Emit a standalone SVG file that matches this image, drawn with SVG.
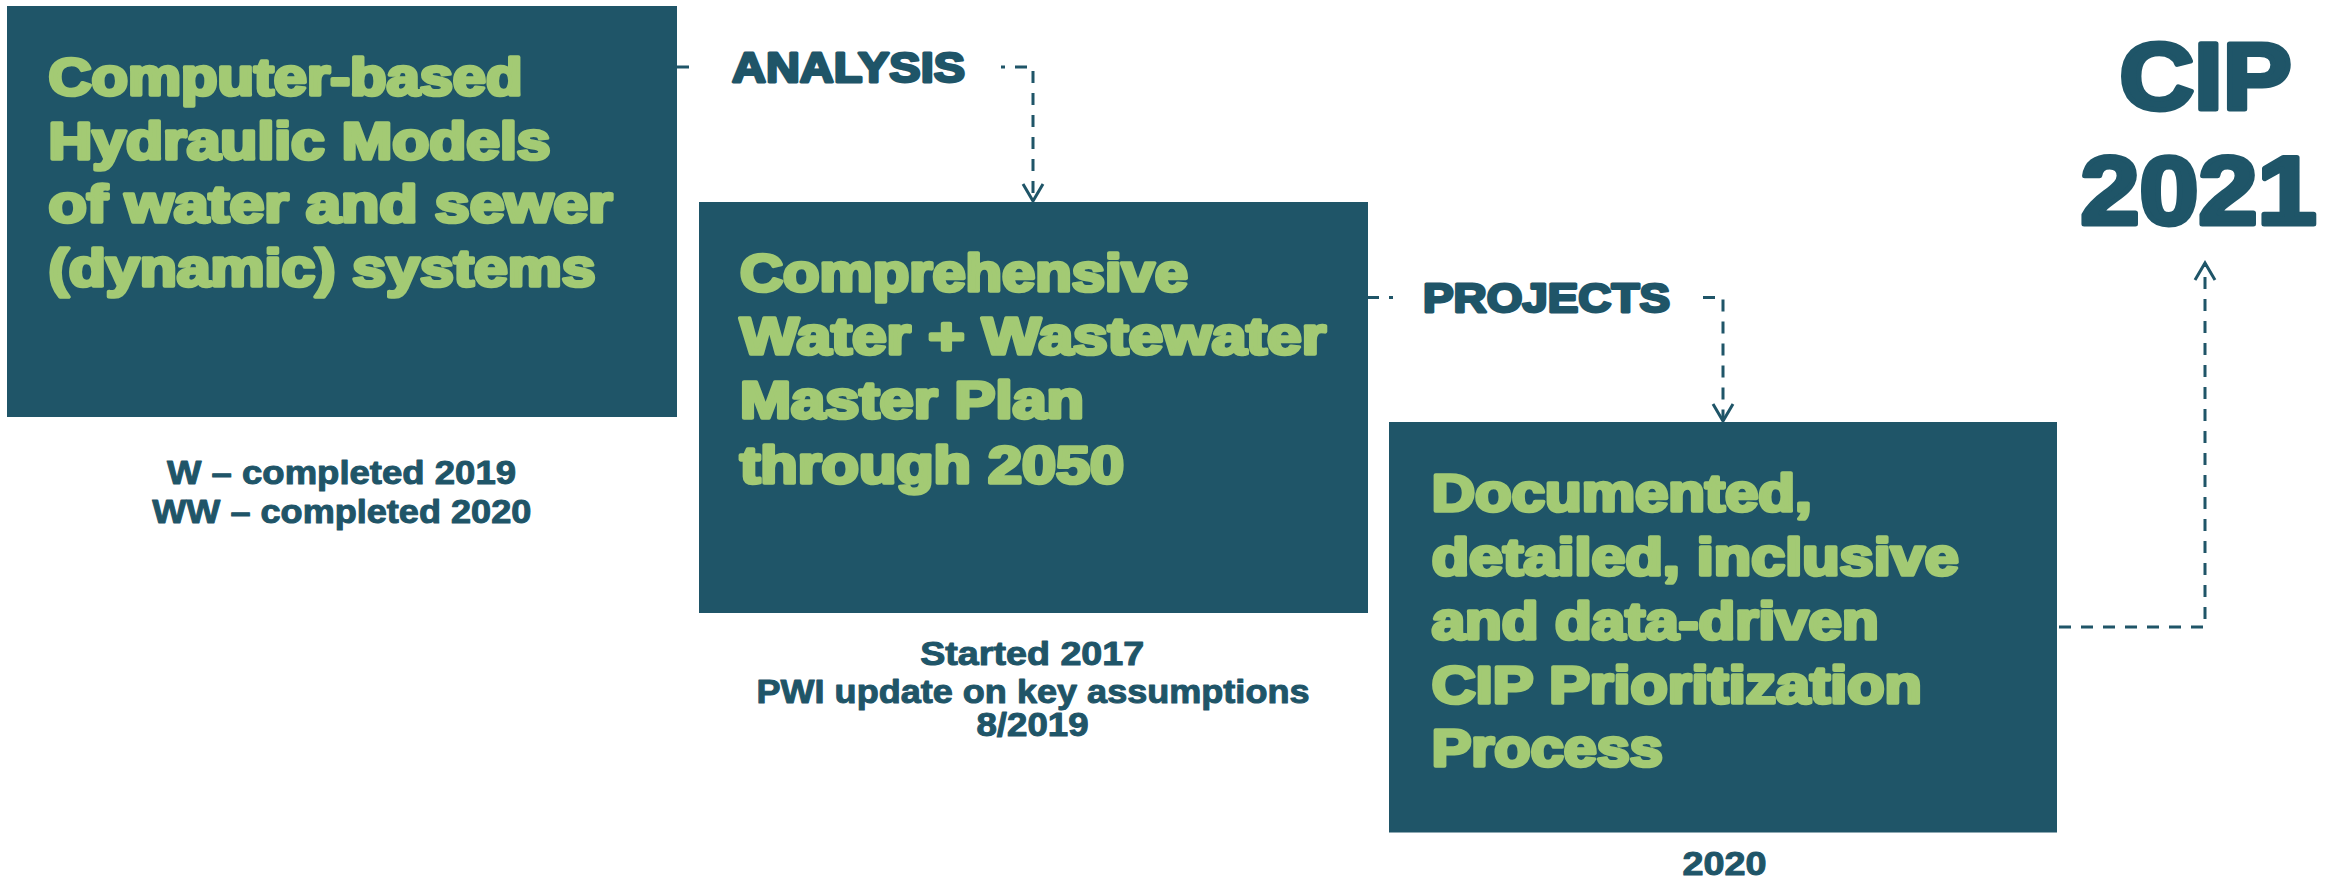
<svg xmlns="http://www.w3.org/2000/svg" width="2343" height="878" viewBox="0 0 2343 878">
<style>
.box{fill:#1F5568}
.g{fill:#A3CA74;stroke:#A3CA74;stroke-width:3.6;font-family:"Liberation Sans",Arial,sans-serif;font-weight:bold;font-size:51px;stroke-linejoin:round}
.d{fill:#1F5568;stroke:#1F5568;font-family:"Liberation Sans",Arial,sans-serif;font-weight:bold;stroke-linejoin:round}
.lbl{font-size:42px;stroke-width:2.8}
.big{font-size:95px;stroke-width:5}
.sm{font-size:32.5px;stroke-width:1}
.con{fill:none;stroke:#1F5568;stroke-width:3;stroke-dasharray:12 10}
</style>
<defs>
<marker id="arr" markerUnits="userSpaceOnUse" markerWidth="30" markerHeight="30" viewBox="-20 -15 24 30" refX="0" refY="0" orient="auto">
<path d="M-17,-10 L0,0 L-17,10" fill="none" stroke="#1F5568" stroke-width="3" stroke-dasharray="none"/>
</marker>
</defs>
<rect width="2343" height="878" fill="#FFFFFF"/>
<g id="connectors">
<path class="con" d="M677,67 H692"/>
<path class="con" d="M1001,67 H1033 V201" stroke-dashoffset="8" marker-end="url(#arr)"/>
<path class="con" d="M1367,297.5 H1393"/>
<path class="con" d="M1703,297.5 H1723 V421" marker-end="url(#arr)"/>
<path class="con" d="M2057,627 H2205 V263" stroke-dashoffset="-2" marker-end="url(#arr)"/>
<text class="d lbl" x="732" y="81.8" textLength="233" lengthAdjust="spacingAndGlyphs">ANALYSIS</text>
<text class="d lbl" x="1423" y="312.3" textLength="247" lengthAdjust="spacingAndGlyphs" style="font-size:40.5px">PROJECTS</text>
</g>
<g id="node-models">
<rect class="box" x="7" y="6" width="670" height="411"/>
<text class="g" x="48.5" y="94.8" textLength="474" lengthAdjust="spacingAndGlyphs">Computer-based</text>
<text class="g" x="48.5" y="158.5" textLength="502" lengthAdjust="spacingAndGlyphs">Hydraulic Models</text>
<text class="g" x="48.5" y="222.2" textLength="564" lengthAdjust="spacingAndGlyphs">of water and sewer</text>
<text class="g" x="48.5" y="286.2" textLength="547" lengthAdjust="spacingAndGlyphs">(dynamic) systems</text>
<text class="d sm" x="167" y="484" textLength="349" lengthAdjust="spacingAndGlyphs">W – completed 2019</text>
<text class="d sm" x="152.3" y="523" textLength="379" lengthAdjust="spacingAndGlyphs">WW – completed 2020</text>
</g>
<g id="node-masterplan">
<rect class="box" x="699" y="202" width="669" height="411"/>
<text class="g" x="740" y="290.7" textLength="448" lengthAdjust="spacingAndGlyphs">Comprehensive</text>
<text class="g" x="740" y="354.2" textLength="586" lengthAdjust="spacingAndGlyphs">Water + Wastewater</text>
<text class="g" x="740" y="418.2" textLength="344" lengthAdjust="spacingAndGlyphs">Master Plan</text>
<text class="g" x="740" y="482.5" textLength="384" lengthAdjust="spacingAndGlyphs">through 2050</text>
<text class="d sm" x="920.2" y="664.7" textLength="224" lengthAdjust="spacingAndGlyphs">Started 2017</text>
<text class="d sm" x="756.5" y="702.7" textLength="553" lengthAdjust="spacingAndGlyphs">PWI update on key assumptions</text>
<text class="d sm" x="976.5" y="736.4" textLength="112" lengthAdjust="spacingAndGlyphs">8/2019</text>
</g>
<g id="node-prioritization">
<rect class="box" x="1389" y="422" width="668" height="410.5"/>
<text class="g" x="1431.7" y="510.9" textLength="380" lengthAdjust="spacingAndGlyphs">Documented,</text>
<text class="g" x="1431.7" y="574.9" textLength="527" lengthAdjust="spacingAndGlyphs">detailed, inclusive</text>
<text class="g" x="1431.7" y="639.2" textLength="447" lengthAdjust="spacingAndGlyphs">and data-driven</text>
<text class="g" x="1431.7" y="702.5" textLength="490" lengthAdjust="spacingAndGlyphs">CIP Prioritization</text>
<text class="g" x="1431.7" y="765.9" textLength="231" lengthAdjust="spacingAndGlyphs">Process</text>
<text class="d sm" x="1682.5" y="875.2" textLength="84" lengthAdjust="spacingAndGlyphs">2020</text>
</g>
<g id="node-cip">
<text class="d big" x="2119.5" y="108.5" textLength="172" lengthAdjust="spacingAndGlyphs">CIP</text>
<text class="d big" x="2080.5" y="224" textLength="236" lengthAdjust="spacingAndGlyphs" style="font-size:97px">2021</text>
</g>
</svg>
